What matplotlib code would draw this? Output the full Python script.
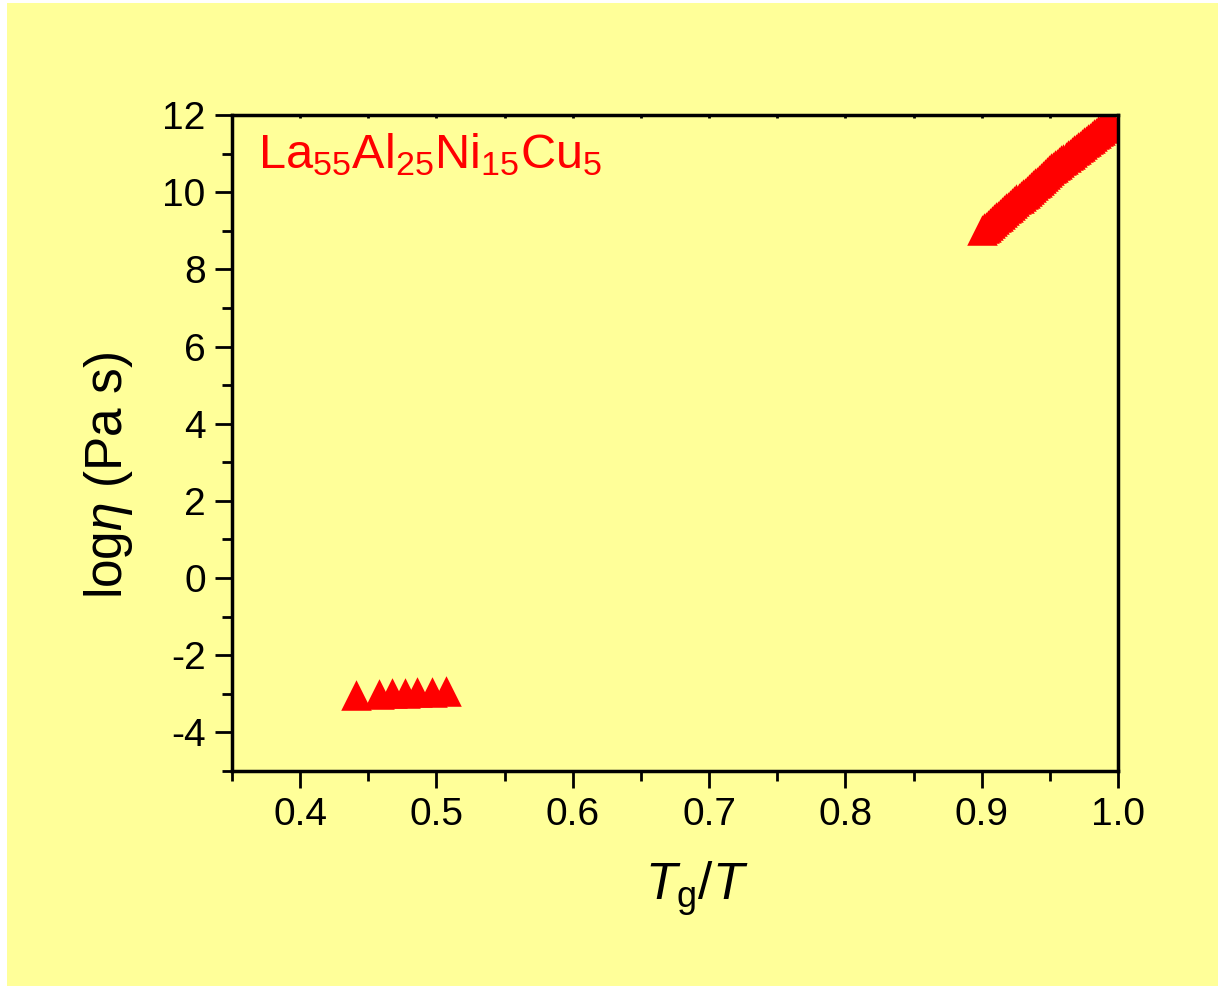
import matplotlib
matplotlib.use("Agg")
import matplotlib.pyplot as plt
from matplotlib.patches import Rectangle
from matplotlib.ticker import MultipleLocator

plt.rcParams['font.family'] = ['Liberation Sans', 'DejaVu Sans']
plt.rcParams['mathtext.fontset'] = 'custom'
plt.rcParams['mathtext.rm'] = 'Liberation Sans'
plt.rcParams['mathtext.it'] = 'Liberation Sans:italic'
plt.rcParams['mathtext.bf'] = 'Liberation Sans:bold'
plt.rcParams['axes.unicode_minus'] = False

# high temperature (liquid) viscosity points
liquid_x = [0.441, 0.458, 0.467, 0.477, 0.486, 0.497, 0.507]
liquid_y = [-3.04, -3.01, -2.99, -2.98, -2.96, -2.94, -2.93]

# supercooled liquid region near Tg
scl_x = [0.900, 0.9015, 0.903, 0.9045, 0.906, 0.9075, 0.909, 0.9105, 0.912,
         0.9135, 0.915, 0.9165, 0.918, 0.9195, 0.921, 0.9225, 0.924, 0.9255,
         0.927, 0.9285, 0.930, 0.9315, 0.933, 0.9345, 0.936, 0.9375, 0.939,
         0.9405, 0.942, 0.9435, 0.945, 0.9465, 0.948, 0.9495, 0.951, 0.9525,
         0.954, 0.9555, 0.957, 0.9585, 0.960, 0.9615, 0.963, 0.9645, 0.966,
         0.9675, 0.969, 0.9705, 0.972, 0.9735, 0.975, 0.9765, 0.978, 0.9795,
         0.981, 0.9825, 0.984, 0.9855, 0.987, 0.9885, 0.990, 0.9915, 0.993,
         0.9945]
scl_y = [9.02, 9.07, 9.11, 9.16, 9.21, 9.25, 9.30, 9.35, 9.39,
         9.44, 9.48, 9.53, 9.58, 9.62, 9.67, 9.72, 9.76, 9.81,
         9.86, 9.90, 9.95, 9.99, 10.04, 10.09, 10.13, 10.18, 10.23,
         10.27, 10.32, 10.36, 10.41, 10.46, 10.53, 10.58, 10.62, 10.66,
         10.70, 10.74, 10.78, 10.83, 10.87, 10.91, 10.95, 10.99, 11.04,
         11.08, 11.12, 11.16, 11.20, 11.24, 11.29, 11.33, 11.37, 11.41,
         11.45, 11.50, 11.54, 11.58, 11.62, 11.66, 11.70, 11.75, 11.79,
         11.83]

bg = '#FFFF99'

fig = plt.figure(figsize=(12.18, 9.86), dpi=100)
fig.patch.set_facecolor('white')
fig.patches.append(Rectangle((7 / 1218, 0), 1 - 7 / 1218, 1 - 3 / 986,
                             transform=fig.transFigure, facecolor=bg,
                             edgecolor='none', zorder=-10))

ax = fig.add_axes([0.1905, 0.218, 0.7274, 0.6654])
ax.set_facecolor(bg)

ax.scatter(liquid_x, liquid_y, marker='^', s=22 ** 2, color='#FF0000',
           linewidths=0, zorder=3)
ax.scatter(scl_x, scl_y, marker='^', s=22 ** 2, color='#FF0000',
           linewidths=0, zorder=3)

ax.set_xlim(0.35, 1.0)
ax.set_ylim(-5, 12)
ax.set_xticks([0.4, 0.5, 0.6, 0.7, 0.8, 0.9, 1.0])
ax.set_xticklabels(['0.4', '0.5', '0.6', '0.7', '0.8', '0.9', '1.0'])
ax.set_yticks([-4, -2, 0, 2, 4, 6, 8, 10, 12])
ax.xaxis.set_minor_locator(MultipleLocator(0.05))
ax.yaxis.set_minor_locator(MultipleLocator(1))

for s in ax.spines.values():
    s.set_linewidth(2.5)
    s.set_zorder(4)

ax.tick_params(axis='both', which='major', direction='out', length=12,
               width=2, labelsize=28, pad=7)
ax.tick_params(axis='both', which='minor', direction='out', length=7, width=2)
ax.tick_params(axis='x', which='both', top=True, labeltop=False)
# short inward ticks on the top spine
for t in ax.xaxis.get_ticklines(minor=False)[1::2] + ax.xaxis.get_ticklines(minor=True)[1::2]:
    t.set_markersize(2)
    t.set_marker(3)

ax.set_xlabel(r'$\mathit{T}_\mathrm{g}/\mathit{T}$', fontsize=37, labelpad=16)
ax.xaxis.set_label_coords(0.525, -0.135)
ax.set_ylabel(r'log$\mathit{\eta}$ (Pa s)', fontsize=37, labelpad=20)
ax.yaxis.set_label_coords(-0.109, 0.451)

ax.text(0.029, 0.919, r'La$_{55}$Al$_{25}$Ni$_{15}$Cu$_{5}$', transform=ax.transAxes,
        color='#FF0000', fontsize=35, va='baseline', ha='left')

fig.savefig('out.png', dpi=100, facecolor=fig.get_facecolor())
